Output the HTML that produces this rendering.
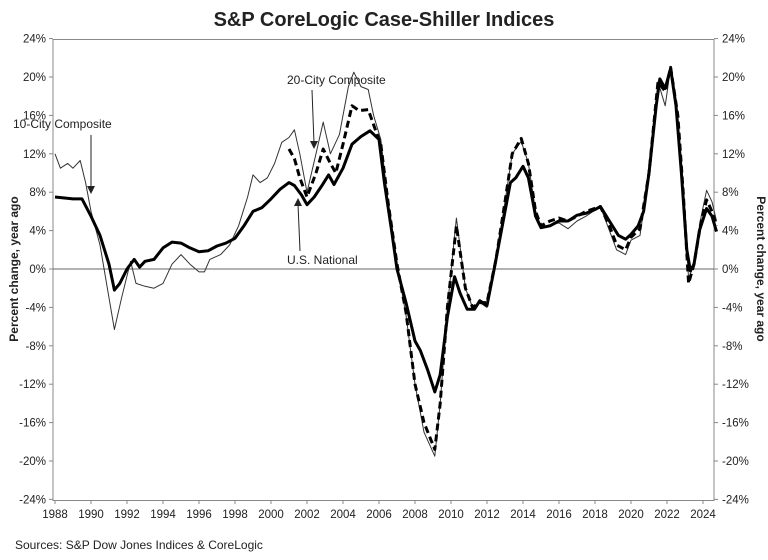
<!DOCTYPE html>
<html><head><meta charset="utf-8"><style>
body{margin:0;background:#fff;font-family:"Liberation Sans",Arial,sans-serif;}
svg text{font-family:"Liberation Sans",Arial,sans-serif;fill:#222;}
</style></head><body>
<svg id="c" width="768" height="555" viewBox="0 0 768 555" xmlns="http://www.w3.org/2000/svg">
<text x="384" y="26" text-anchor="middle" font-size="20" font-weight="bold">S&amp;P CoreLogic Case-Shiller Indices</text>
<rect x="53" y="39.5" width="661" height="461" fill="none" stroke="#888" stroke-width="1"/>
<g id="ticks"></g>
<g id="series"></g>
<text transform="translate(18,269) rotate(-90)" text-anchor="middle" font-size="12" font-weight="bold">Percent change, year ago</text>
<text transform="translate(757,269) rotate(90)" text-anchor="middle" font-size="12" font-weight="bold">Percent change, year ago</text>
<text x="15" y="549" font-size="12">Sources:  S&amp;P Dow Jones Indices &amp; CoreLogic</text>
<text x="13" y="128" font-size="12">10-City Composite</text>
<line x1="91" y1="135" x2="91" y2="188" stroke="#222" stroke-width="1"/>
<polygon points="87,186 95,186 91,194" fill="#222"/>
<text x="287" y="84" font-size="12">20-City Composite</text>
<line x1="312" y1="90" x2="314" y2="143" stroke="#222" stroke-width="1"/>
<polygon points="310,141 318,141 314,149" fill="#222"/>
<text x="287" y="264" font-size="12">U.S. National</text>
<line x1="300" y1="251" x2="298" y2="204" stroke="#222" stroke-width="1"/>
<polygon points="294,206 302,206 298,198" fill="#222"/>
</svg>
<script>
const yTicks=[24,20,16,12,8,4,0,-4,-8,-12,-16,-20,-24];
const xTicks=[1988,1990,1992,1994,1996,1998,2000,2002,2004,2006,2008,2010,2012,2014,2016,2018,2020,2022,2024];
const usYears=[1988,1989,1989.5,1990,1990.5,1991,1991.3,1991.6,1992,1992.4,1992.7,1993,1993.5,1994,1994.5,1995,1995.5,1996,1996.5,1997,1997.5,1998,1998.5,1999,1999.5,2000,2000.5,2001,2001.3,2001.7,2002,2002.4,2002.8,2003.2,2003.5,2004,2004.5,2005,2005.5,2006,2006.3,2006.7,2007,2007.5,2008,2008.3,2008.7,2009.1,2009.4,2009.8,2010.2,2010.5,2010.9,2011.3,2011.6,2012,2012.4,2012.8,2013.3,2013.6,2014,2014.3,2014.7,2015,2015.5,2016,2016.5,2017,2017.5,2018,2018.3,2018.8,2019.3,2019.7,2020,2020.4,2020.7,2021,2021.4,2021.6,2021.9,2022.2,2022.5,2022.8,2023.1,2023.3,2023.5,2023.8,2024.2,2024.5,2024.75];
const usValues=[7.5,7.3,7.3,5.5,3.5,0.5,-2.2,-1.5,0,1,0.2,0.8,1,2.2,2.8,2.7,2.2,1.8,1.9,2.4,2.7,3.2,4.5,6,6.4,7.3,8.3,9,8.7,7.7,6.7,7.5,8.6,9.8,8.8,10.5,13,13.8,14.4,13.5,9,4,0,-3.5,-7.5,-8.5,-10.5,-12.8,-11,-5,-0.8,-2.5,-4.2,-4.2,-3.3,-3.8,0,4,9,9.5,10.7,9.5,5.5,4.3,4.5,5,5,5.6,5.8,6.2,6.5,5,3.5,3.1,3.6,4.5,6,10,17,19.8,18.8,20.9,17,10,2,-0.2,0.5,4,6.3,5.5,3.9];
const c20Years=[2001,2001.3,2001.6,2002,2002.5,2002.9,2003.3,2003.6,2004,2004.5,2004.9,2005.4,2005.8,2006.1,2006.5,2007,2007.5,2008,2008.5,2009.1,2009.4,2009.8,2010.3,2010.8,2011.2,2011.6,2012,2012.5,2013,2013.4,2013.9,2014.3,2014.7,2015,2015.5,2016,2016.5,2017,2017.5,2018.3,2018.8,2019.2,2019.7,2020,2020.5,2021,2021.5,2021.9,2022.2,2022.6,2022.9,2023.2,2023.5,2023.9,2024.2,2024.5,2024.75];
const c20Values=[12.5,11.5,9.5,7.5,10,12.5,11,10,13,17,16.5,16.6,14.5,13,7,0.5,-4.5,-12,-16,-18.8,-14,-4,4.5,-2,-4,-3.5,-3.5,1,7,12,13.6,11,6,4.5,5,5.3,5,5.5,6,6.5,4.5,2.5,2,3.3,4.2,10,19.5,18.5,21,16,8,-1.5,0.5,5,7.2,6,4.5];
const c10Years=[1988,1988.3,1988.7,1989,1989.4,1989.7,1990,1990.5,1991,1991.3,1991.7,1992.2,1992.5,1993,1993.5,1994,1994.5,1995,1995.5,1996,1996.3,1996.6,1997.2,1997.7,1998.2,1998.7,1999,1999.4,1999.8,2000.2,2000.6,2001,2001.3,2001.6,2002,2002.5,2002.9,2003.3,2003.8,2004.3,2004.6,2005,2005.4,2005.7,2006.1,2006.5,2007,2007.5,2008,2008.5,2009.1,2009.4,2009.8,2010.3,2010.8,2011.2,2011.6,2012,2012.5,2013,2013.4,2013.9,2014.3,2014.7,2015,2015.5,2016,2016.5,2017,2017.5,2018.3,2018.8,2019.2,2019.7,2020,2020.5,2021,2021.5,2021.9,2022.2,2022.6,2022.9,2023.2,2023.5,2023.9,2024.2,2024.5,2024.75];
const c10Values=[12,10.5,11,10.5,11.3,9,6,2.5,-3,-6.3,-3,0.8,-1.5,-1.8,-2,-1.5,0.5,1.5,0.5,-0.3,-0.3,1,1.5,2.5,4.5,7.5,9.8,9,9.5,11,13.2,13.7,14.5,12,8,12,15.3,12,14,19,20.5,19,18.7,16,13.5,7,0.5,-4.8,-12,-17,-19.5,-14,-4,5.3,-2,-4,-3.5,-4,1,7,12,13.3,11,6,4.3,4.6,4.8,4.2,5,5.5,6.5,4,2,1.5,3,3.5,10,19.5,17,21,16,8,-1,0.5,5.5,8.2,7,5];

const NS="http://www.w3.org/2000/svg";
const X=yr=>55+(yr-1988)*18.0;
const Y=v=>269-v*9.6;
const tg=document.getElementById('ticks'), sg=document.getElementById('series');
function mk(tag,attrs,parent){const e=document.createElementNS(NS,tag);for(const k in attrs)e.setAttribute(k,attrs[k]);parent.appendChild(e);return e;}
yTicks.forEach(v=>{
  const l=mk('text',{x:46,y:Y(v)+4,'text-anchor':'end','font-size':11.5},tg);l.textContent=v+'%';
  
  
  const r=mk('text',{x:722,y:Y(v)+4,'font-size':11.5},tg);r.textContent=v+'%';
  
  
  const t1=mk('line',{x1:49,x2:53,y1:Y(v),y2:Y(v),stroke:'#888'},tg);
  
  
  const t2=mk('line',{x1:714,x2:718,y1:Y(v),y2:Y(v),stroke:'#888'},tg);
  
  
});
const zl=mk('line',{x1:53,x2:714,y1:Y(0),y2:Y(0),stroke:'#666','stroke-width':1},tg);


xTicks.forEach(yr=>{
  const t=mk('line',{x1:X(yr),x2:X(yr),y1:500.5,y2:504,stroke:'#888'},tg);
  
  
  const l=mk('text',{x:X(yr),y:518,'text-anchor':'middle','font-size':11.5},tg);l.textContent=yr;
  
  
});
function path(xs,vs){return xs.map((x,i)=>(i?'L':'M')+X(x).toFixed(1)+','+Y(vs[i]).toFixed(1)).join(' ');}
const p10=mk('path',{d:path(c10Years,c10Values),fill:'none',stroke:'#333','stroke-width':1,'stroke-linejoin':'round'},sg);


const p20=mk('path',{d:path(c20Years,c20Values),fill:'none',stroke:'#000','stroke-width':3,'stroke-dasharray':'7,4','stroke-linejoin':'round'},sg);


const pus=mk('path',{d:path(usYears,usValues),fill:'none',stroke:'#000','stroke-width':3,'stroke-linejoin':'round'},sg);


</script>
</body></html>
